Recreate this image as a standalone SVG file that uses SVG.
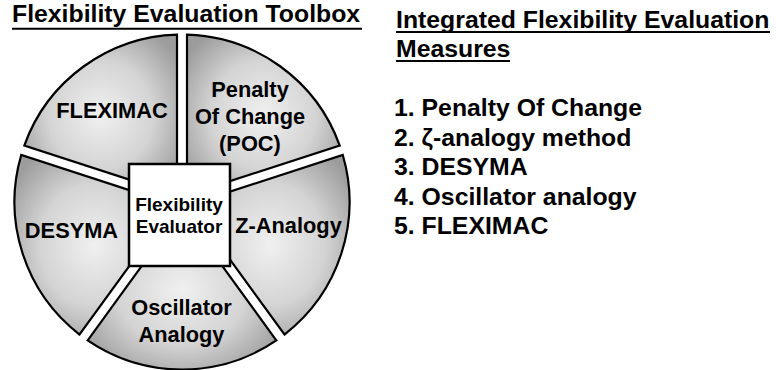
<svg xmlns="http://www.w3.org/2000/svg" width="776" height="370" viewBox="0 0 776 370">
<defs>
<radialGradient id="wg" cx="50%" cy="50%" r="62%">
<stop offset="0" stop-color="#f0f0f0"/>
<stop offset="0.55" stop-color="#d4d4d4"/>
<stop offset="1" stop-color="#9c9c9c"/>
</radialGradient>
</defs>
<style>
.w{fill:url(#wg);stroke:#000;stroke-width:2.2;stroke-linejoin:miter}
.t{font-family:"Liberation Sans",Arial,Helvetica,sans-serif;font-weight:bold;fill:#000}
.wl{font-size:21.8px;text-anchor:middle}
.h{font-size:24.8px}
.ul{stroke:#000;stroke-width:2}
</style>
<rect width="776" height="370" fill="#fff"/>
<g id="title-left">
<text class="t h" x="12" y="21.5">Flexibility Evaluation Toolbox</text>
<line class="ul" x1="12" y1="28.8" x2="362" y2="28.8"/>
</g>
<g id="wedge-poc">
<path class="w" d="M187,195.12 L187,34.58 A167.5,167.5 0 0 1 339.69,145.51 Z"/>
<text class="t wl" x="250" y="97">Penalty</text>
<text class="t wl" x="250" y="124">Of Change</text>
<text class="t wl" x="250" y="151">(POC)</text>
</g>
<g id="wedge-z">
<path class="w" d="M190.08,204.63 L342.78,155.02 A167.5,167.5 0 0 1 284.45,334.51 Z"/>
<text class="t wl" x="288.5" y="233">Z-Analogy</text>
</g>
<g id="wedge-osc">
<path class="w" d="M182,210.5 L276.34,340.4 A167.5,167.5 0 0 1 87.66,340.4 Z"/>
<text class="t wl" x="181.5" y="315">Oscillator</text>
<text class="t wl" x="181.5" y="342">Analogy</text>
</g>
<g id="wedge-desyma">
<path class="w" d="M173.92,204.63 L79.55,334.51 A167.5,167.5 0 0 1 21.22,155.02 Z"/>
<text class="t wl" x="71.5" y="238">DESYMA</text>
</g>
<g id="wedge-fleximac">
<path class="w" d="M177,195.12 L24.31,145.51 A167.5,167.5 0 0 1 177,34.58 Z"/>
<text class="t wl" x="112" y="118">FLEXIMAC</text>
</g>
<g id="evaluator">
<rect x="129" y="164" width="101" height="102" fill="#fff" stroke="#000" stroke-width="2.5"/>
<text class="t" x="179" y="211" font-size="19" text-anchor="middle">Flexibility</text>
<text class="t" x="179" y="233" font-size="19" text-anchor="middle">Evaluator</text>
</g>
<g id="connectors"></g>
<g id="measures">
<text class="t h" x="396" y="28">Integrated Flexibility Evaluation</text>
<line class="ul" x1="396" y1="32" x2="770" y2="32"/>
<text class="t h" x="396" y="57">Measures</text>
<line class="ul" x1="396" y1="61" x2="510" y2="61"/>
<text class="t h" x="394" y="116">1. Penalty Of Change</text>
<text class="t h" x="394" y="146">2. ζ-analogy method</text>
<text class="t h" x="394" y="175">3. DESYMA</text>
<text class="t h" x="394" y="205">4. Oscillator analogy</text>
<text class="t h" x="394" y="234">5. FLEXIMAC</text>
</g>
</svg>
